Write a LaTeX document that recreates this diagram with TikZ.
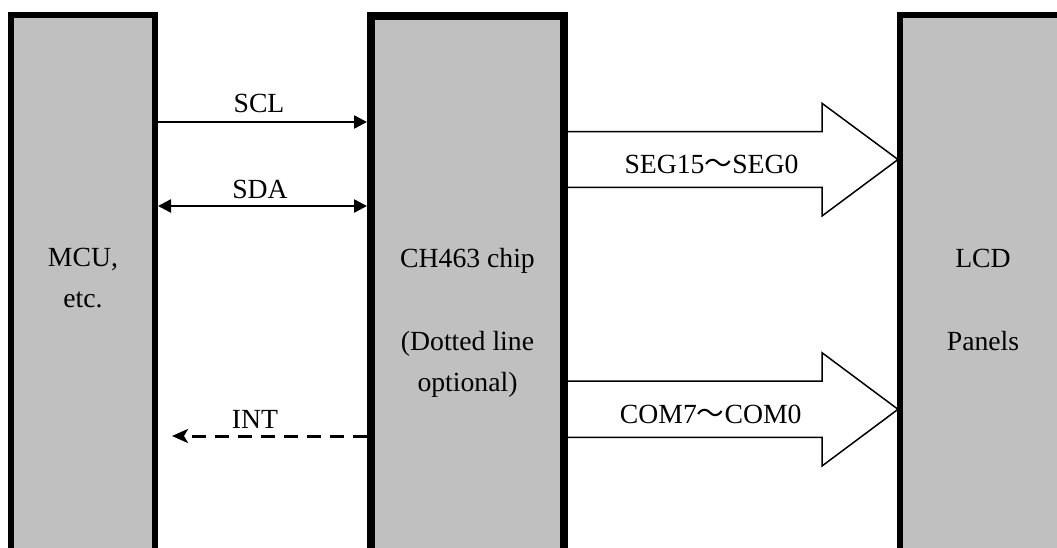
\documentclass[tikz,border=0pt]{standalone}
\usepackage{fontspec}
\setmainfont{Liberation Serif}
\newfontfamily\cjk{Noto Sans CJK SC}
\usetikzlibrary{arrows.meta}
\definecolor{boxgray}{HTML}{C0C0C0}
\begin{document}
\begin{tikzpicture}[x=1pt,y=-1pt,
  blk/.style={draw=black,fill=boxgray,inner sep=0pt,outer sep=0pt,anchor=north west},
  lbl/.style={inner sep=0pt,anchor=base,font=\fontsize{27.7}{33}\selectfont},
  sig/.style={line width=2.5pt},
  bigarrow/.style={line width=1.5pt,line join=miter},
  tipT/.style={-{Triangle[length=13pt,width=13pt]}},
  tipTT/.style={{Triangle[length=13pt,width=13pt]}-{Triangle[length=13pt,width=13pt]}}
]
\useasboundingbox (0,0) rectangle (1057,547);
\clip (0,0) rectangle (1057,547);
% blocks
\node[blk,line width=6pt,minimum width=144pt,minimum height=560pt] (mcu) at (11,15) {};
\node[blk,line width=8pt,minimum width=193pt,minimum height=560pt] (chip) at (371,16) {};
\node[blk,line width=6pt,minimum width=200pt,minimum height=560pt] (lcd) at (900,15) {};
% block texts
\node[lbl] (t1) at (83,266) {MCU,};
\node[lbl] (t2) at (83,307) {etc.};
\node[lbl] (t3) at (467.5,267) {CH463 chip};
\node[lbl] (t4) at (467.5,350) {(Dotted line};
\node[lbl] (t5) at (467.5,391) {optional)};
\node[lbl] (t6) at (983,267) {LCD};
\node[lbl] (t7) at (983,350) {Panels};
% helper rows
\coordinate (ySCL) at (0,122);
\coordinate (ySDA) at (0,206);
\coordinate (intend) at (172,436);
\coordinate (s1a) at (0,131.7);
\coordinate (s1b) at (0,187.3);
\coordinate (s1t) at (0,159.5);
\coordinate (s2a) at (0,381);
\coordinate (s2b) at (0,437.3);
\coordinate (s2t) at (0,409.3);
% SCL / SDA
\draw[sig,tipT,shorten >=4pt] (mcu.east |- ySCL) -- (chip.west |- ySCL);
\draw[sig,tipTT,shorten <=3pt,shorten >=4pt] (mcu.east |- ySDA) -- (chip.west |- ySDA);
\node[lbl] (lscl) at (259,112) {SCL};
\node[lbl] (lsda) at (260,198) {SDA};
% INT
\draw[line width=3pt,dash pattern=on 14pt off 9pt,-{Stealth[length=16pt,width=14pt,inset=4pt]},shorten <=4pt] (chip.west |- intend) -- (intend);
\node[lbl] (lint) at (255,428) {INT};
% big arrows
\draw[bigarrow] (chip.east |- s1a) -- (822,131.7) -- (822,103.3) -- ([xshift=-2pt]lcd.west |- s1t) -- (822,216) -- (822,187.3) -- (chip.east |- s1b);
\draw[bigarrow] (chip.east |- s2a) -- (822,381) -- (822,352.7) -- ([xshift=-2pt]lcd.west |- s2t) -- (822,466) -- (822,437.3) -- (chip.east |- s2b);
\node[lbl] (lseg) at (711.5,173) {SEG15{\cjk ～}SEG0};
\node[lbl] (lcom) at (710.7,423) {COM7{\cjk ～}COM0};
\end{tikzpicture}
\end{document}
